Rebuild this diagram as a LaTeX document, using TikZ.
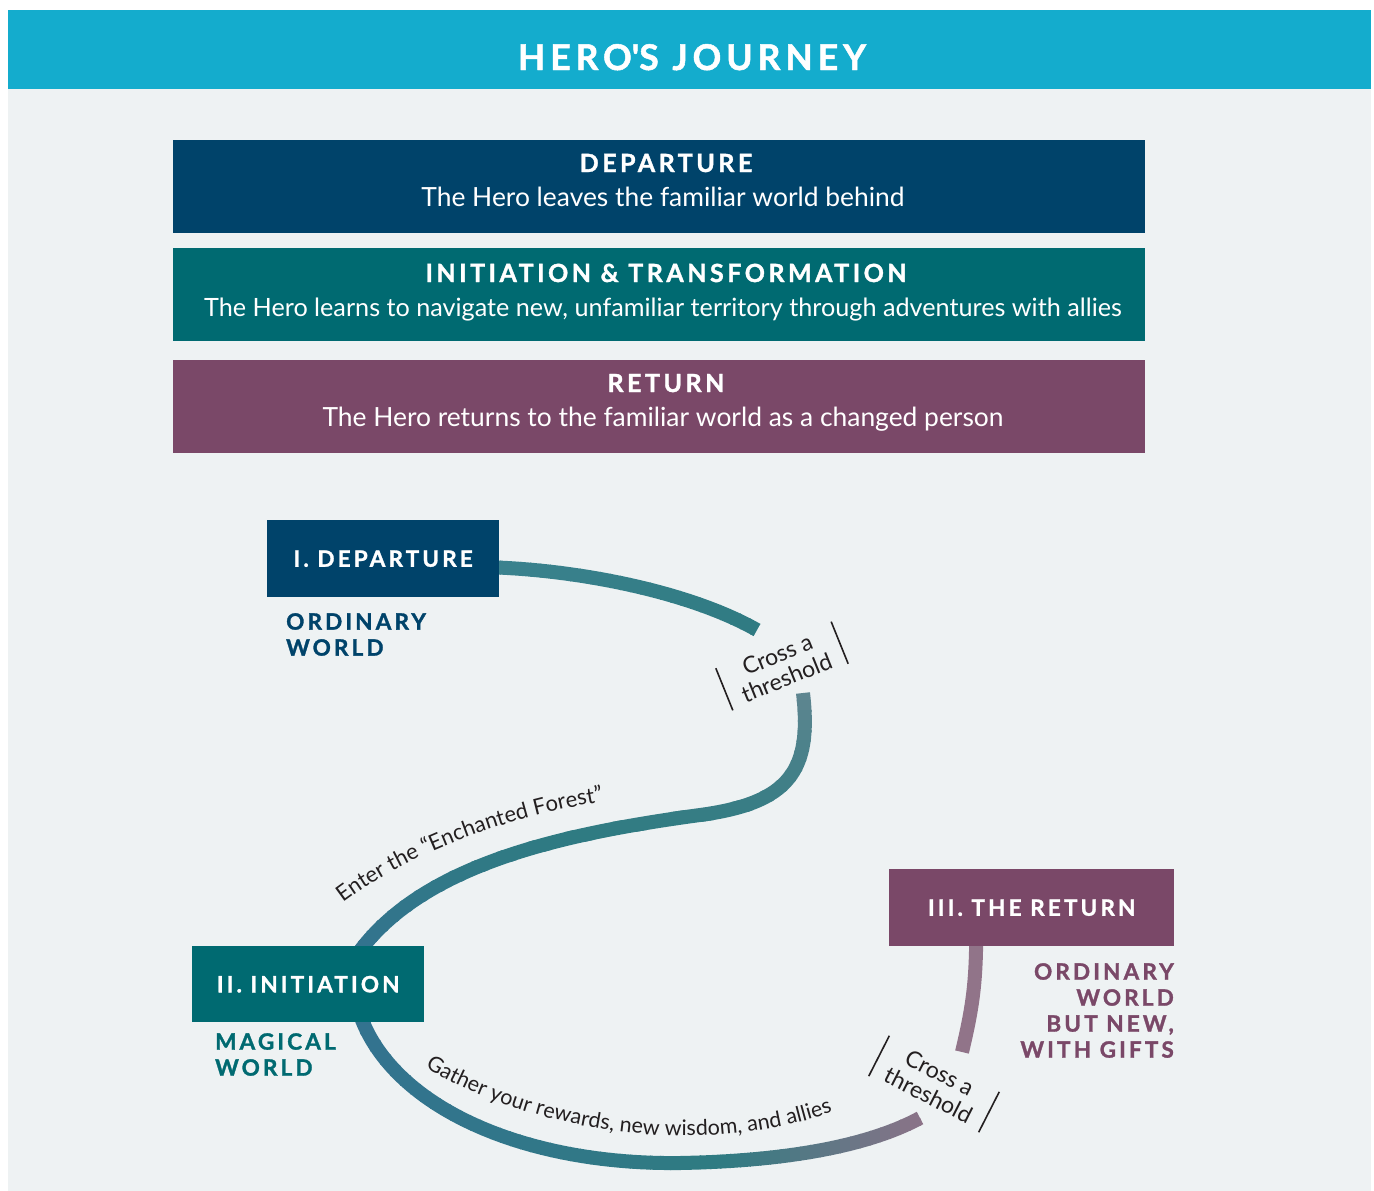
\documentclass[tikz,border=0pt]{standalone}
\usepackage{fontspec}
\setmainfont{Lato}
\newfontfamily\hfont{Lato}[LetterSpace=14, BoldFeatures={FakeBold=1.4}]
\usetikzlibrary{decorations.text}
\definecolor{hdrblue}{HTML}{14ACCD}
\definecolor{bgc}{HTML}{EEF2F3}
\definecolor{navy}{HTML}{00436A}
\definecolor{tealc}{HTML}{006A71}
\definecolor{plum}{HTML}{7A4868}
\definecolor{ink}{HTML}{231F20}
\definecolor{pA}{HTML}{3B828E}
\definecolor{pT}{HTML}{2F7B82}
\definecolor{pB}{HTML}{33738F}
\definecolor{pG}{HTML}{5E8690}
\definecolor{pM}{HTML}{8D7388}
\definecolor{pD}{HTML}{917489}
\pgfdeclarelayer{back}
\pgfdeclarelayer{bands}
\pgfsetlayers{back,bands,main}
\begin{document}
\begin{tikzpicture}[x=1pt,y=-1pt,
  panel/.style={inner sep=0pt, anchor=north west},
  headtxt/.style={anchor=base, text=white, font=\hfont\bfseries\fontsize{25}{28}\selectfont},
  subtxt/.style={anchor=base, text=white, font=\fontsize{26.4}{30}\selectfont},
  stagetxt/.style={text=white, font=\hfont\bfseries\fontsize{22.5}{26}\selectfont},
  worldtxt/.style={font=\hfont\bfseries\fontsize{22.5}{26}\selectfont, inner sep=0pt},
  thresh/.style={align=center, text=ink, font=\fontsize{23}{25}\selectfont, minimum width=124pt, minimum height=45pt, inner sep=0pt},
  bar/.style={draw=ink, line width=1.6pt},
  band/.style={line width=14pt},
]
\begin{pgfonlayer}{back}
\fill[white] (0,0) rectangle (1374,1191);
\fill[bgc] (8,88) rectangle (1371,1191);
\end{pgfonlayer}
\useasboundingbox (0,0) rectangle (1374,1191);

% header
\node[panel, fill=hdrblue, minimum width=1363pt, minimum height=79pt] (hdr) at (8,10) {};
\node[anchor=base, text=white, font=\hfont\bfseries\fontsize{35.5}{40}\selectfont] (title) at (692,70) {HERO\textquotesingle S JOURNEY};

% banners
\node[panel, fill=navy, minimum width=972pt, minimum height=93pt] (ban1) at (173,140) {};
\node[headtxt] (ban1h) at (666,172) {DEPARTURE};
\node[subtxt] (ban1s) at (663,206) {The Hero leaves the familiar world behind};
\node[panel, fill=tealc, minimum width=972pt, minimum height=93pt] (ban2) at (173,248) {};
\node[headtxt] (ban2h) at (666,282) {INITIATION \& TRANSFORMATION};
\node[subtxt, font=\fontsize{25.2}{30}\selectfont] (ban2s) at (663,316) {The Hero learns to navigate new, unfamiliar territory through adventures with allies};
\node[panel, fill=plum, minimum width=972pt, minimum height=93pt] (ban3) at (173,360) {};
\node[headtxt] (ban3h) at (666,392) {RETURN};
\node[subtxt] (ban3s) at (663,426) {The Hero returns to the familiar world as a changed person};

% stage boxes
\node[panel, fill=navy, minimum width=232pt, minimum height=77pt, stagetxt] (st1) at (267,520) {I. DEPARTURE};
\node[panel, fill=tealc, minimum width=232pt, minimum height=76pt, stagetxt] (st2) at (192,946) {II. INITIATION};
\node[panel, fill=plum, minimum width=285pt, minimum height=77pt, stagetxt] (st3) at (889,869) {III. THE RETURN};

% world labels
\node[worldtxt, text=navy, anchor=north west, align=left] (w1) at (286,613) {ORDINARY\\WORLD};
\node[worldtxt, text=tealc, anchor=north west, align=left] (w2) at (215,1033) {MAGICAL\\WORLD};
\node[worldtxt, text=plum, anchor=north east, align=right] (w3) at (1174,963) {ORDINARY\\WORLD\\BUT NEW,\\WITH GIFTS};

% thresholds
\node[thresh, rotate=22] (th1) at (782,666) {Cross a\\threshold};
\draw[bar] (th1.north west) -- (th1.south west) (th1.north east) -- (th1.south east);
\node[thresh, rotate=-27, minimum width=123pt] (th2) at (934,1084) {Cross a\\threshold};
\draw[bar] (th2.north west) -- (th2.south west) (th2.north east) -- (th2.south east);

% path end points
\coordinate (a0) at ([xshift=-10pt, yshift=-8.5pt]st1.east);
\coordinate (a1) at (757,630);
\coordinate (b0) at (803,693);
\coordinate (bm) at (700,815);
\coordinate (b1) at ([xshift=48pt, yshift=-10pt]st2.north);
\coordinate (c0) at ([xshift=51pt, yshift=10pt]st2.south);
\coordinate (cm) at (680,1163);
\coordinate (c1) at (920,1118);
\coordinate (d0) at (962,1052);
\coordinate (d1) at ([xshift=-55.5pt, yshift=10pt]st3.south);

\begin{pgfonlayer}{bands}
% segment A: departure -> threshold
\foreach \xa in {480,490,...,770}{
  \pgfmathsetmacro\pp{max(0,min(100,(\xa-495)/2.6))}
  \begin{scope}
    \clip (\xa,500) rectangle (\xa+11,700);
    \draw[band, draw=pT!\pp!pA] (a0) .. controls (580,570) and (690,592) .. (a1);
  \end{scope}
}
% segment B: threshold -> initiation
\foreach \ya in {680,690,...,960}{
  \ifnum\ya<830
    \pgfmathsetmacro\pp{max(0,min(100,(\ya-690)/1.4))}\def\cc{pT!\pp!pG}
  \else
    \pgfmathsetmacro\pp{max(0,min(100,(\ya-830)/1.16))}\def\cc{pB!\pp!pT}
  \fi
  \begin{scope}
    \clip (300,\ya) rectangle (900,\ya+11);
    \draw[band, draw=\cc] (b0) .. controls (812,770) and (790,803) .. (bm) .. controls (560,834) and (420,865) .. (b1);
  \end{scope}
}
% segment C: initiation -> threshold
\foreach \xa in {330,340,...,940}{
  \ifnum\xa<700
    \pgfmathsetmacro\pp{max(0,min(100,(\xa-360)/3.4))}\def\cc{pT!\pp!pB}
  \else
    \pgfmathsetmacro\pp{max(0,min(100,(\xa-720)/2.0))}\def\cc{pM!\pp!pT}
  \fi
  \begin{scope}
    \clip (\xa,1000) rectangle (\xa+11,1191);
    \draw[band, draw=\cc] (c0) .. controls (390,1105) and (520,1165) .. (cm) .. controls (790,1161) and (870,1145) .. (c1);
  \end{scope}
}
% segment D: threshold -> return
\draw[band, draw=pD] (d0) .. controls (972,1010) and (976,985) .. (d1);
\end{pgfonlayer}

% curved labels
\path[decorate, decoration={text along path, text align=center,
  text={|\fontsize{22}{26}\selectfont\color{ink}|Enter the “Enchanted Forest”}}]
  (336,908) .. controls (378,874) and (470,822) .. (612,800);
\path[decorate, decoration={text along path, text align=center,
  text={|\fontsize{21.5}{26}\selectfont\color{ink}|Gather your rewards, new wisdom, and allies}}]
  (420,1064) .. controls (505,1118) and (680,1168) .. (838,1110);
\end{tikzpicture}
\end{document}
